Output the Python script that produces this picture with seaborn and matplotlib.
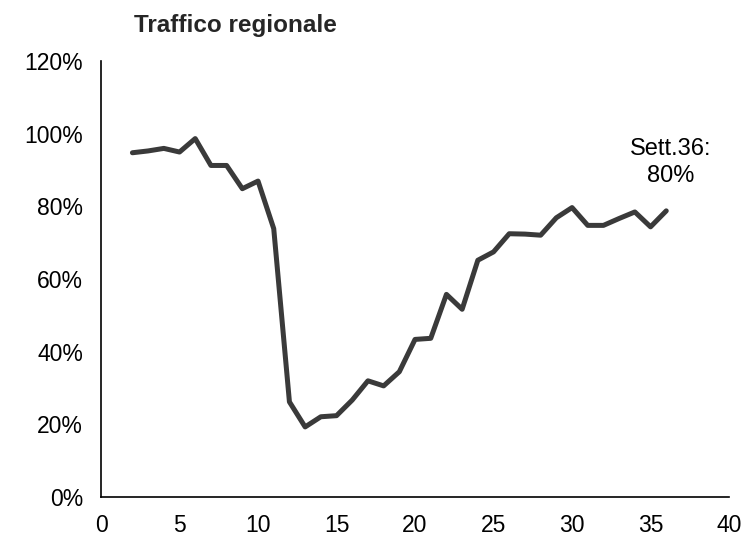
import numpy as np
import pandas as pd
import matplotlib
matplotlib.use("Agg")
import matplotlib.pyplot as plt
import seaborn as sns
from matplotlib.ticker import PercentFormatter

settimane = list(range(2, 37))
traffico = [94.8, 95.3, 96.0, 95.0, 98.7, 91.3, 91.3, 84.9, 87.0, 73.9,
            26.2, 19.3, 22.1, 22.4, 26.7, 32.0, 30.6, 34.5, 43.4, 43.7,
            55.8, 51.7, 65.2, 67.5, 72.5, 72.4, 72.1, 76.9, 79.7, 74.8,
            74.8, 76.7, 78.5, 74.4, 78.8]
titolo = "Traffico regionale"
etichetta = "Sett.36:\n80%"

df = pd.DataFrame({"settimana": settimane, "traffico": traffico})

sns.set_style("white")
plt.rcParams['font.family'] = ['Liberation Sans', 'DejaVu Sans']

fig = plt.figure(figsize=(7.45, 5.4), dpi=100)
ax = fig.add_axes([0.1356, 0.0796, 0.843, 0.807])

sns.lineplot(data=df, x="settimana", y="traffico", ax=ax, color="#3a3a3a", linewidth=3.6)

ax.set_xlim(0, 40)
ax.set_ylim(0, 120)
ax.set_xticks(range(0, 41, 5))
ax.set_yticks(range(0, 121, 20))
ax.yaxis.set_major_formatter(PercentFormatter(decimals=0))
ax.set_xlabel("")
ax.set_ylabel("")
sns.despine(ax=ax)
for s in ["left", "bottom"]:
    ax.spines[s].set_color("black")
    ax.spines[s].set_linewidth(1.2)
ax.tick_params(axis="both", direction="out", length=6, width=1.2, color="black",
               labelsize=16.5, labelcolor="black")
ax.tick_params(axis="y", pad=7)
ax.tick_params(axis="x", pad=6)

ax.text(36.3, 92, etichetta, ha="center", va="center",
        fontsize=17, color="black", linespacing=1.3)

fig.text(0.18, 0.952, titolo, fontsize=17.5, fontweight="bold", ha="left", va="center")

fig.savefig("out.png", dpi=100)
